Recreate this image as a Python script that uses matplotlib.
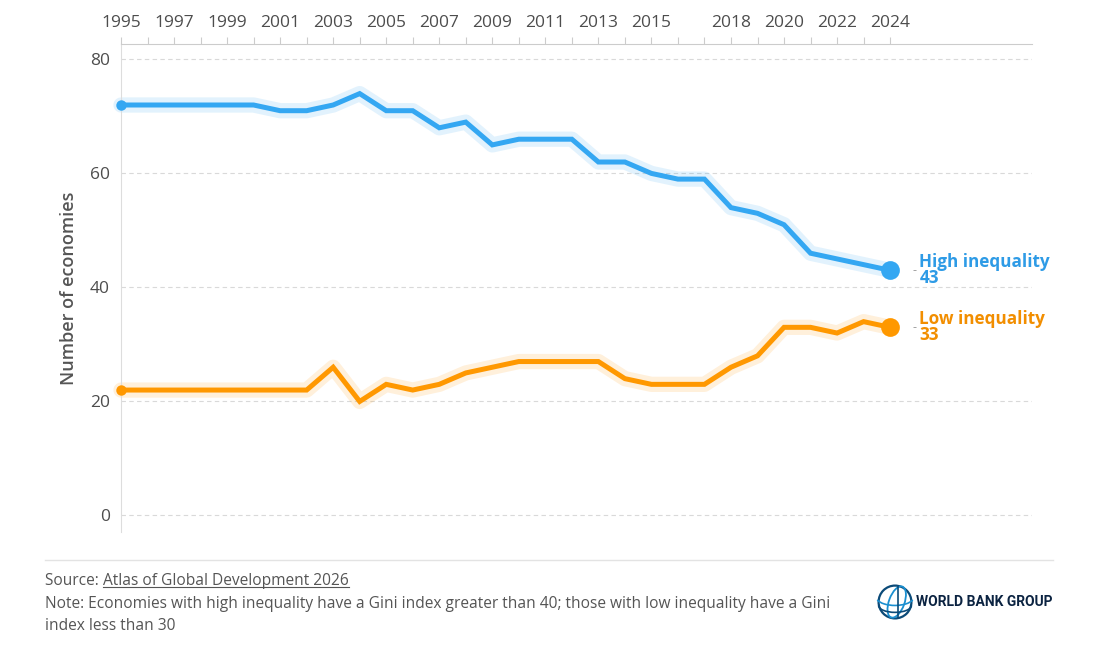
import numpy as np
import matplotlib
matplotlib.use("Agg")
import matplotlib.pyplot as plt
from matplotlib.patches import Circle, Ellipse, Arc
from matplotlib.lines import Line2D

plt.rcParams['font.family'] = ['Open Sans', 'DejaVu Sans']

# data
years = list(range(1995, 2025))
high_ineq = [72, 72, 72, 72, 72, 72, 71, 71, 72, 74,
             71, 71, 68, 69, 65, 66, 66, 66, 62, 62,
             60, 59, 59, 54, 53, 51, 46, 45, 44, 43]
low_ineq = [22, 22, 22, 22, 22, 22, 22, 22, 26, 20,
            23, 22, 23, 25, 26, 27, 27, 27, 27, 24,
            23, 23, 23, 26, 28, 33, 33, 32, 34, 33]
labelled_years = [1995, 1997, 1999, 2001, 2003, 2005, 2007, 2009, 2011,
                  2013, 2015, 2018, 2020, 2022, 2024]
y_ticks = [0, 20, 40, 60, 80]

series = [
    ("High inequality", high_ineq, "#34A7F2", "#2E9BE6"),
    ("Low inequality", low_ineq, "#FF9800", "#F28E00"),
]

W, H = 1100, 665
fig = plt.figure(figsize=(W / 100, H / 100), dpi=100)
fig.patch.set_facecolor("white")

# axes box in pixels: left 121, right 1032, top 44, bottom 532
ax = fig.add_axes([121 / W, (H - 532) / H, (1032 - 121) / W, (532 - 44) / H])
ax.set_xlim(1995, 2029.35)
ax.set_ylim(-2.9, 82.7)

for name, vals, col, tcol in series:
    ax.plot(years, vals, color=col, lw=11, alpha=0.14, clip_on=False,
            solid_joinstyle="round", solid_capstyle="round", zorder=2)
    ax.plot(years, vals, color=col, lw=3.6, solid_joinstyle="miter", zorder=3)
    ax.plot(years[0], vals[0], "o", color=col, ms=7.5, mec="none",
            clip_on=False, zorder=4)
    ax.plot(years[-1], vals[-1], "o", color=col, ms=13.5, mec="none", zorder=4)
    ax.annotate("-", xy=(years[-1], vals[-1]), xytext=(16, 0),
                textcoords="offset points", color="#999999", fontsize=9,
                va="center", ha="left")
    ax.annotate(f"{name}\n{vals[-1]}", xy=(years[-1], vals[-1]),
                xytext=(21, 0), textcoords="offset points", color=tcol,
                fontsize=12.3, fontweight="bold", va="center", ha="left",
                linespacing=0.85)

# grid
for yv in y_ticks:
    ax.axhline(yv, color="#d9d9d9", lw=0.8, ls=(0, (4, 3)), zorder=1)

ax.set_yticks(y_ticks)
ax.tick_params(axis="y", length=0, pad=8, labelsize=12.5, labelcolor="#4d4d4d")

ax.xaxis.tick_top()
ax.set_xticks(years)
ax.set_xticklabels([str(y) if y in labelled_years else "" for y in years])
ax.tick_params(axis="x", length=5, width=0.8, color="#cccccc", pad=4.5,
               labelsize=12.5, labelcolor="#4d4d4d")

for side in ["right", "bottom"]:
    ax.spines[side].set_visible(False)
ax.spines["top"].set_color("#cccccc")
ax.spines["top"].set_linewidth(0.8)
ax.spines["left"].set_color("#dddddd")
ax.spines["left"].set_linewidth(0.8)

fig.text(69 / W, 1 - 288 / H, "Number of economies", rotation=90,
         ha="center", va="center", fontsize=13, fontweight="semibold",
         color="#555555")

# footer separator
fig.add_artist(Line2D([45 / W, 1053 / W], [1 - 560 / H, 1 - 560 / H],
                      color="#e3e3e3", lw=1))

foot_col = "#555555"
foot_fs = 11.2
t1 = fig.text(45 / W, 1 - 581 / H, "Source: ", fontsize=foot_fs, color=foot_col,
              va="center", ha="left")
fig.canvas.draw()
r = fig.canvas.get_renderer()
bb = t1.get_window_extent(r)
t2 = fig.text(bb.x1 / W, 1 - 581 / H, "Atlas of Global Development 2026",
              fontsize=foot_fs, color=foot_col, va="center", ha="left")
bb2 = t2.get_window_extent(r)
uy = (bb2.y0 + 2) / H
fig.add_artist(Line2D([bb2.x0 / W, bb2.x1 / W], [uy, uy], color=foot_col, lw=0.8))
fig.text(45 / W, 1 - 604 / H,
         "Note: Economies with high inequality have a Gini index greater than 40; "
         "those with low inequality have a Gini",
         fontsize=foot_fs, color=foot_col, va="center", ha="left")
fig.text(45 / W, 1 - 626 / H, "index less than 30",
         fontsize=foot_fs, color=foot_col, va="center", ha="left")

# logo: simple globe + wordmark
lax = fig.add_axes([876 / W, 1 - 621 / H, 38 / W, 38 / H])
lax.set_xlim(-1.1, 1.1)
lax.set_ylim(-1.1, 1.1)
lax.set_aspect("equal")
lax.axis("off")
lax.add_patch(Circle((0, 0), 0.95, fill=False, ec="#0b4a78", lw=1.6))
lax.add_patch(Ellipse((0.1, 0), 0.9, 1.9, angle=-20, fill=False, ec="#1a8fd0", lw=1.3))
lax.add_patch(Arc((0, 0.3), 2.2, 1.0, theta1=190, theta2=350, ec="#1a8fd0", lw=1.2))
lax.add_patch(Arc((0, -0.2), 1.9, 0.8, theta1=180, theta2=360, ec="#0b4a78", lw=1.2))
lax.plot([0.15, 0.15], [-0.95, 0.95], color="#0b4a78", lw=1.2)
fig.text(916 / W, 1 - 602 / H, "WORLD BANK GROUP", fontsize=10,
         fontweight="bold", color="#0b2341", va="center", ha="left",
         family=["Roboto", "DejaVu Sans"])

fig.savefig("out.png", dpi=100)
